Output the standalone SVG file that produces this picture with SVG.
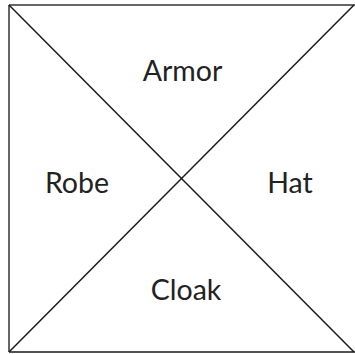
<svg xmlns="http://www.w3.org/2000/svg" width="355" height="354" viewBox="0 0 355 354">
<style>
.lbl{font-family:Lato,"Open Sans",sans-serif;font-size:28.5px;fill:#222;text-anchor:middle}
.ln{stroke:#1a1a1a;stroke-width:1.5;fill:none}
.bd{stroke:#666;stroke-width:2;fill:none}
</style>
<rect width="355" height="354" fill="#fff"/>
<g id="connectors">
<line class="bd" x1="9" y1="5" x2="355" y2="5"/>
<line class="bd" x1="9" y1="5" x2="9" y2="352"/>
<line class="ln" x1="9" y1="352" x2="355" y2="352"/>
<line class="ln" x1="9" y1="5" x2="354" y2="352"/>
<line class="ln" x1="9" y1="352" x2="354" y2="5"/>
</g>
<g id="armor"><text class="lbl" x="182.5" y="81">Armor</text></g>
<g id="robe"><text class="lbl" x="77" y="193">Robe</text></g>
<g id="hat"><text class="lbl" x="290" y="193">Hat</text></g>
<g id="cloak"><text class="lbl" x="186" y="300">Cloak</text></g>
</svg>
